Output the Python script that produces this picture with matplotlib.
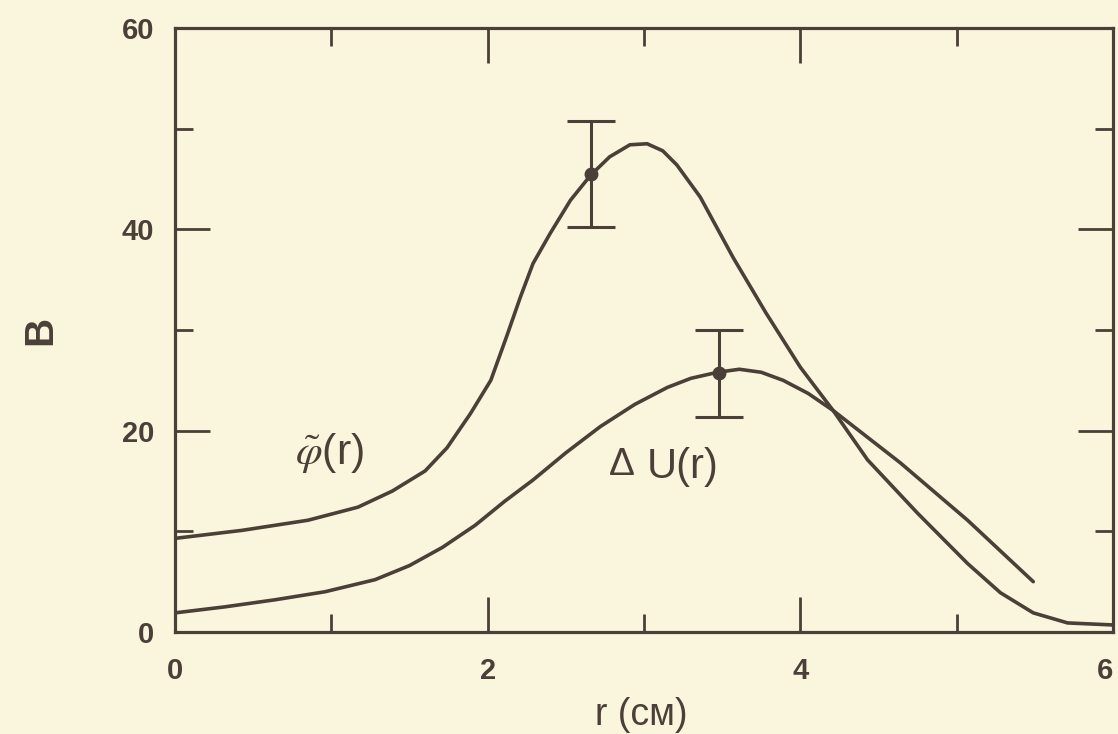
import matplotlib
matplotlib.use("Agg")
import matplotlib.pyplot as plt

# --- data ---
r_phi = [0, 0.43, 0.85, 1.17, 1.39, 1.60, 1.74, 1.89, 2.02, 2.12, 2.21, 2.29,
         2.40, 2.53, 2.66, 2.78, 2.91, 3.02, 3.12, 3.21, 3.36, 3.57, 3.78, 4.0,
         4.21, 4.43, 4.75, 5.07, 5.28, 5.49, 5.71, 6.0]
phi = [9.3, 10.1, 11.1, 12.4, 14.0, 16.0, 18.3, 21.7, 25.0, 29.3, 33.3, 36.6,
       39.6, 42.9, 45.4, 47.2, 48.4, 48.5, 47.8, 46.4, 43.2, 37.2, 31.7, 26.3,
       22.0, 17.1, 11.8, 6.8, 3.9, 1.9, 0.9, 0.7]

r_du = [0, 0.32, 0.64, 0.96, 1.28, 1.50, 1.71, 1.92, 2.11, 2.29, 2.50, 2.72,
        2.94, 3.15, 3.30, 3.47, 3.61, 3.75, 3.89, 4.05, 4.21, 4.64, 5.07, 5.49]
du = [1.9, 2.5, 3.2, 4.0, 5.2, 6.6, 8.4, 10.6, 13.0, 15.1, 17.8, 20.4,
      22.6, 24.3, 25.2, 25.8, 26.1, 25.8, 25.0, 23.7, 22.0, 16.8, 11.1, 5.0]

err_r = [2.66, 3.48]
err_v = [45.5, 25.7]
err_d = [5.3, 4.3]

x_ticks = [0, 2, 4, 6]
y_ticks = [0, 20, 40, 60]

ink = "#4b4037"
paper = "#faf6de"

plt.rcParams["font.family"] = ["Liberation Sans", "DejaVu Sans"]
plt.rcParams["mathtext.fontset"] = "stix"

fig = plt.figure(figsize=(11.18, 7.34), dpi=100, facecolor=paper)
ax = fig.add_axes([175 / 1118, 1 - 632 / 734, (1113 - 175) / 1118, (632 - 28) / 734])
ax.set_facecolor(paper)

ax.plot(r_phi, phi, color=ink, lw=2.6, solid_capstyle="round", solid_joinstyle="round")
ax.plot(r_du, du, color=ink, lw=2.6, solid_capstyle="round", solid_joinstyle="round")
ax.errorbar(err_r, err_v, yerr=err_d, fmt="o", color=ink, ms=9, elinewidth=2.2,
            capsize=17, capthick=2.2)

ax.set_xlim(0, 6)
ax.set_ylim(0, 60)
ax.set_xticks(x_ticks)
ax.set_yticks(y_ticks)
ax.set_xticks([1, 3, 5], minor=True)
ax.set_yticks([10, 30, 50], minor=True)
ax.tick_params(which="both", direction="in", top=True, right=True, color=ink,
               labelcolor=ink, labelsize=21)
ax.tick_params(which="major", length=25, width=2.0)
ax.tick_params(which="minor", length=13, width=2.0)
ax.tick_params(axis="x", pad=18)
ax.tick_params(axis="y", pad=15)
for lbl in ax.get_xticklabels() + ax.get_yticklabels():
    lbl.set_fontweight("bold")
ax.get_xticklabels()[-1].set_horizontalalignment("right")
for s in ax.spines.values():
    s.set_color(ink)
    s.set_linewidth(2.3)

# curve labels
ax.text(0.99, 17.8, r"$\tilde{\varphi}$(r)", color=ink, fontsize=31,
        ha="center", va="center")
ax.text(2.86, 16.6, "Δ", color=ink, fontsize=28, ha="center", va="center")
ax.text(3.02, 16.4, "U(r)", color=ink, fontsize=30, ha="left", va="center")

# axis titles
fig.text(641 / 1118, 1 - 715 / 734, "r (см)", color=ink, fontsize=27,
         ha="center", va="center")
fig.text(40 / 1118, 1 - 330 / 734, "В", color=ink, fontsize=29, rotation=90,
         fontweight="bold", ha="center", va="center")

fig.savefig("out.png", dpi=100, facecolor=paper)
